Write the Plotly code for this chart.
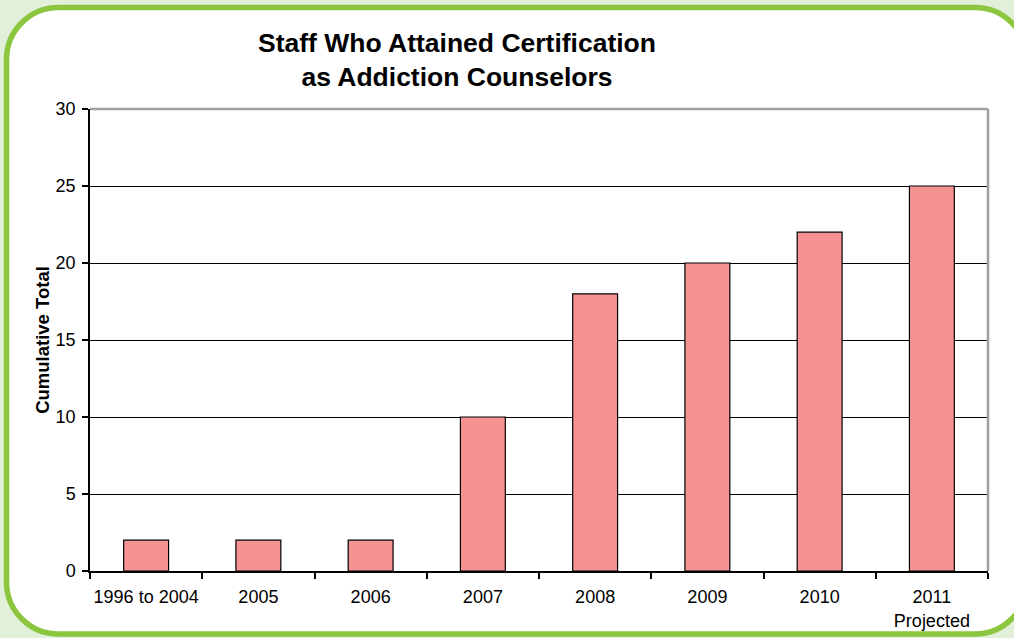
import plotly.graph_objects as go

categories = ["1996 to 2004", "2005", "2006", "2007", "2008", "2009", "2010", "2011<br>Projected"]
values = [2, 2, 2, 10, 18, 20, 22, 25]
y_ticks = [0, 5, 10, 15, 20, 25, 30]

W, H = 1014, 638
ML, MR, MT, MB = 90, 26, 109, 67
PW, PH = W - ML - MR, H - MT - MB


def px(x):
    return (x - ML) / PW


def py(y):
    return (H - MB - y) / PH


def rounded_path(L, T, R, B, r):
    k = 0.5523 * r
    pts = []
    pts.append(f"M {px(L + r)},{py(T)}")
    pts.append(f"L {px(R - r)},{py(T)}")
    pts.append(f"C {px(R - r + k)},{py(T)} {px(R)},{py(T + r - k)} {px(R)},{py(T + r)}")
    pts.append(f"L {px(R)},{py(B - r)}")
    pts.append(f"C {px(R)},{py(B - r + k)} {px(R - r + k)},{py(B)} {px(R - r)},{py(B)}")
    pts.append(f"L {px(L + r)},{py(B)}")
    pts.append(f"C {px(L + r - k)},{py(B)} {px(L)},{py(B - r + k)} {px(L)},{py(B - r)}")
    pts.append(f"L {px(L)},{py(T + r)}")
    pts.append(f"C {px(L)},{py(T + r - k)} {px(L + r - k)},{py(T)} {px(L + r)},{py(T)}")
    pts.append("Z")
    return " ".join(pts)


FONT = "Liberation Sans, Arial, sans-serif"

fig = go.Figure()
fig.add_trace(go.Bar(
    x=categories, y=values,
    marker=dict(color="#f59393", line=dict(color="#000000", width=1.2)),
    hoverinfo="skip",
))

fig.update_layout(
    width=W, height=H,
    margin=dict(l=ML, r=MR, t=MT, b=MB, autoexpand=False),
    paper_bgcolor="#e2efd9",
    plot_bgcolor="rgba(0,0,0,0)",
    bargap=0.6,
    showlegend=False,
    font=dict(family=FONT, color="#000000", size=18),
    title=dict(
        text="<b>Staff Who Attained Certification<br>as Addiction Counselors</b>",
        x=457 / W, xref="container", xanchor="center",
        y=1 - 52 / H, yref="container", yanchor="top",
        font=dict(family=FONT, size=26.5, color="#000000"),
    ),
    xaxis=dict(
        type="category",
        showgrid=False,
        showline=True, linecolor="#000000", linewidth=1.5,
        ticks="outside", ticklen=6, tickwidth=1.5, tickcolor="#000000",
        tickson="boundaries",
        tickangle=0,
        automargin=False,
        ticklabelstandoff=9,
        tickfont=dict(family=FONT, size=18, color="#000000"),
        fixedrange=True,
    ),
    yaxis=dict(
        range=[0, 30],
        tickvals=y_ticks,
        showgrid=True, gridcolor="#000000", gridwidth=1.2,
        zeroline=False,
        showline=True, linecolor="#000000", linewidth=1.5,
        ticks="outside", ticklen=6, tickwidth=1.5, tickcolor="#000000",
        ticklabelstandoff=3,
        automargin=False,
        tickfont=dict(family=FONT, size=18, color="#000000"),
        title=dict(text="<b>Cumulative Total</b>", font=dict(family=FONT, size=18.5, color="#000000"), standoff=1),
        fixedrange=True,
    ),
    shapes=[
        dict(type="path", xref="paper", yref="paper", layer="below",
             path=rounded_path(6.5, 7.5, 1027, 634, 52),
             fillcolor="#ffffff", line=dict(color="#8cc63f", width=5.5)),
        dict(type="line", xref="paper", yref="paper", layer="above",
             x0=0, x1=1, y0=1, y1=1, line=dict(color="#a0a0a0", width=2.5)),
        dict(type="line", xref="paper", yref="paper", layer="above",
             x0=1, x1=1, y0=0, y1=1, line=dict(color="#a0a0a0", width=2.5)),
    ],
)

fig.write_html("out.html")
